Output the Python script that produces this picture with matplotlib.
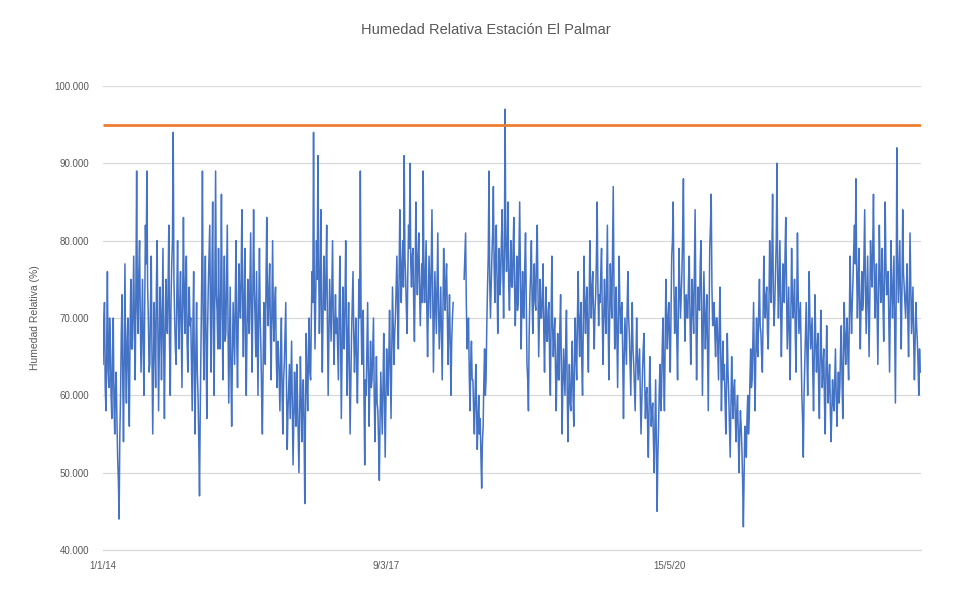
import numpy as np
import pandas as pd
import matplotlib
matplotlib.use("Agg")
import matplotlib.pyplot as plt

# Relative humidity, El Palmar station, one reading every 3 days from 1 Jan 2014
nan = np.nan
rh = [
    64, 69, 72, 61, 58, 66, 76, 63, 61, 70, 67, 60, 57, 65, 70, 59, 55, 61, 63, 57, 52, 49, 44, 55, 60, 68, 73, 62, 54, 66, 77, 64, 59, 67, 70, 62, 56, 68, 75, 66,
    66, 72, 78, 68, 62, 74, 89, 71, 68, 76, 80, 70, 63, 69, 75, 66, 60, 71, 82, 77, 89, 74, 70, 63, 64, 72, 78, 65, 55, 63, 72, 67, 61, 74, 80, 69, 58, 66, 74, 70,
    62, 71, 79, 66, 57, 68, 75, 70, 68, 74, 82, 67, 60, 72, 77, 80, 94, 75, 70, 66, 64, 73, 80, 71, 66, 72, 76, 68, 61, 73, 83, 72, 68, 75, 78, 67, 63, 70, 74, 69,
    70, 64, 58, 69, 76, 62, 55, 66, 72, 63, 60, 54, 47, 58, 66, 75, 89, 70, 62, 71, 78, 66, 57, 68, 74, 78, 82, 70, 63, 76, 85, 69, 60, 75, 89, 73, 71, 66, 79, 70,
    66, 74, 86, 70, 62, 71, 78, 67, 68, 75, 82, 69, 59, 66, 74, 63, 56, 65, 72, 68, 64, 73, 80, 67, 61, 70, 77, 72, 70, 76, 84, 71, 65, 73, 79, 66, 60, 69, 75, 70,
    68, 75, 81, 70, 63, 73, 84, 74, 70, 65, 76, 68, 60, 71, 79, 70, 66, 60, 55, 64, 72, 67, 64, 75, 83, 72, 69, 74, 77, 68, 62, 71, 80, 70, 67, 72, 74, 65, 61, 67,
    66, 62, 58, 65, 70, 60, 55, 62, 64, 68, 72, 61, 53, 58, 61, 64, 57, 62, 67, 58, 51, 57, 63, 59, 56, 64, 60, 55, 50, 57, 65, 60, 54, 59, 62, 56, 46, 58, 68, 62,
    58, 65, 70, 63, 62, 70, 76, 72, 94, 74, 66, 73, 80, 75, 91, 77, 68, 74, 84, 70, 63, 71, 78, 72, 71, 76, 82, 69, 60, 68, 75, 71, 67, 74, 80, 70, 64, 69, 73, 68,
    70, 66, 62, 71, 78, 68, 57, 65, 74, 69, 66, 72, 80, 70, 60, 67, 72, 63, 55, 62, 68, 72, 76, 68, 63, 67, 70, 64, 59, 66, 75, 70, 89, 71, 64, 68, 71, 60, 51, 62,
    60, 66, 72, 63, 56, 62, 67, 61, 62, 66, 70, 60, 54, 60, 65, 59, 58, 54, 49, 57, 63, 59, 55, 61, 68, 60, 52, 59, 66, 62, 60, 65, 71, 64, 57, 66, 74, 69, 64, 68,
    70, 74, 78, 71, 66, 75, 84, 76, 72, 77, 80, 74, 91, 78, 75, 71, 68, 76, 82, 79, 90, 77, 74, 78, 79, 72, 67, 75, 85, 77, 73, 78, 81, 74, 69, 73, 77, 72, 89, 75,
    72, 76, 80, 71, 65, 72, 78, 74, 70, 77, 84, 73, 63, 70, 76, 72, 68, 75, 81, 71, 66, 70, 74, 68, 62, 71, 79, 74, 71, 75, 77, 70, 64, 69, 73, 66, 60, 67, 70, 72,
    nan, nan, nan, nan, nan, nan, nan, nan, nan, nan, nan, nan, nan, nan, 75, 78, 81, 72, 66, 69, 70, 63, 58, 64, 67, 62, 62, 58, 55, 60, 64, 58, 53, 57, 60, 55, 57, 52, 48, 54,
    56, 62, 66, 60, 62, 69, 74, 78, 89, 75, 70, 74, 78, 81, 87, 77, 72, 78, 82, 75, 68, 74, 79, 73, 75, 80, 84, 76, 70, 78, 97, 80, 76, 79, 85, 74, 71, 76, 80, 74,
    74, 79, 83, 74, 69, 73, 78, 71, 72, 79, 85, 75, 66, 72, 76, 70, 70, 77, 81, 72, 64, 62, 58, 68, 73, 76, 80, 72, 68, 74, 77, 72, 71, 78, 82, 73, 65, 70, 75, 70,
    70, 73, 77, 68, 63, 70, 74, 67, 67, 71, 72, 64, 60, 70, 78, 69, 65, 68, 70, 63, 58, 64, 68, 62, 62, 69, 73, 64, 55, 61, 66, 63, 60, 67, 71, 61, 54, 60, 64, 59,
    58, 63, 67, 60, 56, 64, 70, 65, 62, 70, 76, 69, 65, 70, 72, 64, 60, 69, 78, 72, 68, 72, 74, 67, 63, 72, 80, 74, 70, 74, 76, 70, 66, 71, 73, 78, 85, 74, 69, 73,
    72, 76, 79, 70, 64, 70, 75, 71, 68, 75, 82, 70, 62, 70, 77, 73, 70, 78, 87, 74, 66, 71, 74, 67, 61, 70, 78, 72, 68, 71, 72, 64, 57, 65, 70, 67, 64, 71, 76, 70,
    68, 64, 60, 67, 72, 66, 64, 61, 58, 64, 70, 65, 62, 64, 66, 60, 55, 59, 63, 66, 68, 62, 57, 60, 61, 56, 52, 59, 65, 60, 56, 58, 59, 54, 50, 56, 62, 54, 45, 52,
    56, 61, 64, 58, 60, 66, 70, 63, 58, 67, 75, 70, 66, 70, 72, 67, 63, 71, 78, 80, 85, 74, 68, 72, 74, 67, 62, 71, 79, 74, 70, 73, 76, 81, 88, 74, 67, 71, 73, 70,
    70, 75, 78, 70, 64, 70, 75, 71, 68, 76, 84, 72, 62, 69, 74, 72, 71, 77, 80, 70, 60, 68, 76, 71, 66, 70, 73, 66, 58, 68, 79, 82, 86, 74, 69, 71, 72, 68, 65, 70,
    70, 66, 62, 69, 74, 66, 58, 63, 67, 62, 64, 59, 55, 62, 68, 63, 60, 56, 52, 59, 65, 60, 57, 61, 62, 57, 54, 58, 60, 55, 50, 55, 58, 56, 53, 49, 43, 50, 56, 53,
    52, 57, 60, 55, 57, 62, 66, 61, 62, 67, 72, 64, 58, 65, 70, 66, 65, 71, 75, 69, 68, 65, 63, 70, 78, 72, 70, 73, 74, 68, 66, 72, 80, 74, 72, 78, 86, 73, 69, 72,
    76, 80, 90, 75, 70, 75, 80, 71, 65, 71, 77, 73, 72, 78, 83, 74, 66, 70, 74, 67, 62, 70, 79, 73, 70, 72, 75, 68, 63, 72, 81, 73, 68, 70, 72, 66, 60, 57, 52, 60,
    64, 68, 72, 65, 60, 68, 76, 70, 66, 68, 70, 63, 58, 66, 73, 67, 63, 66, 68, 61, 57, 65, 71, 65, 61, 64, 66, 59, 55, 63, 69, 63, 59, 62, 64, 58, 54, 58, 62, 59,
    58, 62, 66, 60, 56, 60, 63, 59, 61, 66, 69, 62, 57, 65, 72, 67, 64, 68, 70, 65, 62, 70, 78, 72, 68, 72, 75, 79, 82, 77, 88, 76, 70, 75, 79, 71, 66, 72, 76, 71,
    72, 78, 84, 74, 68, 73, 78, 71, 65, 72, 80, 76, 74, 79, 86, 76, 70, 74, 77, 70, 64, 73, 82, 76, 72, 75, 79, 72, 67, 75, 85, 77, 73, 75, 76, 69, 63, 71, 80, 74,
    70, 74, 78, 68, 59, 72, 92, 77, 72, 76, 80, 72, 66, 74, 84, 76, 74, 72, 70, 74, 77, 70, 65, 73, 81, 74, 68, 71, 74, 67, 62, 67, 72, 69, 67, 64, 60, 66, 63, 63,
]
threshold = 95

start_date = "2014-01-01"
tick_dates = ["2014-01-01", "2017-03-09", "2020-05-15"]
tick_labels = ["1/1/14", "9/3/17", "15/5/20"]
y_ticks = [40, 50, 60, 70, 80, 90, 100]
y_tick_labels = ["40.000", "50.000", "60.000", "70.000", "80.000", "90.000", "100.000"]

dates = pd.date_range(start_date, periods=len(rh), freq="3D")

text_color = "#595959"
grid_color = "#D9D9D9"

plt.rcParams["font.family"] = ["Liberation Sans", "DejaVu Sans"]

fig = plt.figure(figsize=(9.71, 6.05), dpi=100)
ax = fig.add_axes([0.1061, 0.0909, 0.8424, 0.7670])

ax.plot(dates, rh, color="#4472C4", linewidth=1.1, zorder=3)
ax.plot([dates[0], dates[-1]], [threshold, threshold], color="#ED7D31",
        linewidth=2.0, zorder=4, solid_capstyle="butt")

ax.set_xlim(dates[0], dates[-1])
ax.set_ylim(40, 100)
ax.set_yticks(y_ticks)
ax.set_yticklabels(y_tick_labels)
ax.set_xticks(pd.to_datetime(tick_dates))
ax.set_xticklabels(tick_labels)

ax.grid(axis="y", color=grid_color, linewidth=0.9, zorder=0)
ax.grid(axis="x", visible=False)
for side in ("top", "right", "left"):
    ax.spines[side].set_visible(False)
ax.spines["bottom"].set_color(grid_color)
ax.spines["bottom"].set_linewidth(0.9)
ax.tick_params(axis="both", length=0, labelsize=7, labelcolor=text_color)
ax.tick_params(axis="y", pad=10)
ax.tick_params(axis="x", pad=8)

ax.set_ylabel("Humedad Relativa (%)", fontsize=7.5, color=text_color, labelpad=10)
fig.text(0.5, 0.950, "Humedad Relativa Estación El Palmar", ha="center", va="center",
         fontsize=10.5, color=text_color)

fig.savefig("out.png", dpi=100, facecolor="white")
